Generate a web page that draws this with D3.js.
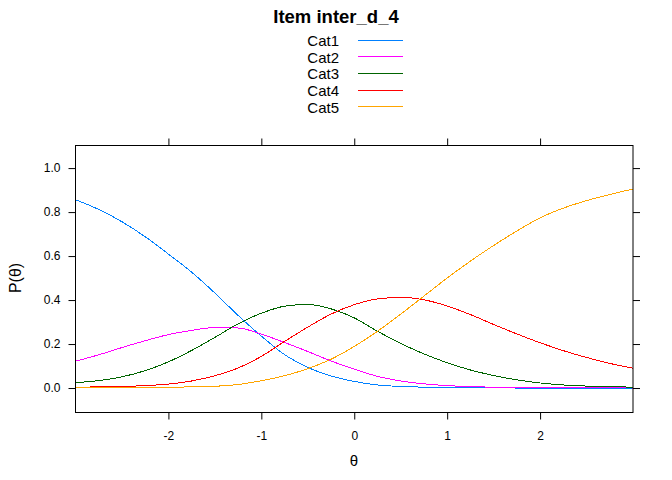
<!DOCTYPE html>
<html>
<head>
<meta charset="utf-8">
<script src="https://cdn.jsdelivr.net/npm/d3@7"></script>
<style>
  html, body { margin: 0; padding: 0; background: #ffffff; }
  svg { display: block; font-family: "Liberation Sans", Arial, sans-serif; }
</style>
</head>
<body>
<svg id="chart" width="672" height="480"></svg>
<script>
// ---- data ----
const theta = [-3, -2.75, -2.5, -2.25, -2, -1.75, -1.5, -1.25, -1, -0.75, -0.5, -0.25, 0,
               0.25, 0.5, 0.75, 1, 1.25, 1.5, 1.75, 2, 2.25, 2.5, 2.75, 3];
const cat1 = [0.856, 0.812, 0.756, 0.688, 0.609, 0.527, 0.432, 0.330, 0.236, 0.152, 0.094, 0.055, 0.030,
              0.014, 0.007, 0.004, 0.002, 0.001, 0.001, 0.000, 0.000, 0.000, 0.000, 0.000, 0.000];
const cat2 = [0.122, 0.151, 0.184, 0.215, 0.243, 0.262, 0.275, 0.273, 0.245, 0.207, 0.166, 0.123, 0.086,
              0.053, 0.032, 0.019, 0.011, 0.006, 0.004, 0.003, 0.002, 0.001, 0.001, 0.001, 0.000];
const cat3 = [0.024, 0.034, 0.051, 0.079, 0.119, 0.171, 0.230, 0.292, 0.340, 0.372, 0.380, 0.360, 0.319,
              0.258, 0.203, 0.155, 0.115, 0.082, 0.057, 0.037, 0.023, 0.014, 0.009, 0.006, 0.004];
const cat4 = [0.004, 0.005, 0.007, 0.011, 0.018, 0.032, 0.056, 0.091, 0.144, 0.212, 0.277, 0.336, 0.379,
              0.405, 0.412, 0.401, 0.373, 0.334, 0.289, 0.246, 0.206, 0.170, 0.139, 0.112, 0.090];
const cat5 = [0.001, 0.001, 0.002, 0.003, 0.004, 0.005, 0.008, 0.016, 0.033, 0.056, 0.088, 0.131, 0.189,
              0.258, 0.336, 0.418, 0.500, 0.577, 0.648, 0.714, 0.774, 0.818, 0.852, 0.880, 0.905];
const seriesNames = ["Cat1", "Cat2", "Cat3", "Cat4", "Cat5"];
const seriesColors = ["#0080ff", "#ff00ff", "#006400", "#ff0000", "#ffa500"];
const xTicks = [-2, -1, 0, 1, 2];
const yTicks = [0.0, 0.2, 0.4, 0.6, 0.8, 1.0];
const titleText = "Item inter_d_4";
const xLabel = "θ";
const yLabel = "P(θ)";

const seriesValues = [cat1, cat2, cat3, cat4, cat5];

// ---- layout ----
const svg = d3.select("#chart");
const L = 75.5, R = 633, T = 145, B = 412;

const x = d3.scaleLinear().domain([-3, 3]).range([L, R]);
const y = d3.scaleLinear().domain([-0.109, 1.105]).range([B, T]);

// title
svg.append("text")
  .attr("x", 336).attr("y", 23)
  .attr("text-anchor", "middle")
  .attr("font-size", 18.5).attr("font-weight", "bold")
  .attr("fill", "#000")
  .text(titleText);

// legend
const leg = svg.append("g");
seriesNames.forEach((n, i) => {
  const by = 46 + i * 16.67;
  leg.append("text")
    .attr("x", 339).attr("y", by)
    .attr("text-anchor", "end")
    .attr("font-size", 15).attr("fill", "#000")
    .text(n);
  leg.append("line")
    .attr("x1", 358).attr("x2", 403)
    .attr("y1", Math.round(by - 6.5) + 0.5).attr("y2", Math.round(by - 6.5) + 0.5)
    .attr("stroke", seriesColors[i]).attr("stroke-width", 1);
});

// curves
const line = d3.line()
  .x((d, i) => x(theta[i]))
  .y(d => y(d))
  .curve(d3.curveMonotoneX);

const plot = svg.append("g");
seriesValues.forEach((vals, i) => {
  plot.append("path")
    .datum(vals)
    .attr("d", line)
    .attr("fill", "none")
    .attr("stroke", seriesColors[i])
    .attr("stroke-width", 1)
    .attr("shape-rendering", "crispEdges");
});

// frame
svg.append("rect")
  .attr("x", L).attr("y", T + 0.5)
  .attr("width", R - L).attr("height", B - T)
  .attr("fill", "none").attr("stroke", "#000").attr("stroke-width", 1);

// axes
const tickLen = 7;
const axB = d3.axisBottom(x).tickValues(xTicks).tickSizeInner(tickLen).tickSizeOuter(0).tickPadding(12)
  .tickFormat(d => d3.format("d")(d).replace("−", "-"));
const axT = d3.axisTop(x).tickValues(xTicks).tickSizeInner(tickLen).tickSizeOuter(0).tickFormat("");
const axL = d3.axisLeft(y).tickValues(yTicks).tickSizeInner(tickLen).tickSizeOuter(0).tickPadding(8)
  .tickFormat(d3.format(".1f"));
const axR = d3.axisRight(y).tickValues(yTicks).tickSizeInner(tickLen).tickSizeOuter(0).tickFormat("");

function styleAxis(g) {
  g.select(".domain").remove();
  g.selectAll(".tick line").attr("stroke", "#000");
  g.selectAll("text").attr("font-size", 12).attr("fill", "#000")
    .attr("font-family", "Liberation Sans, Arial, sans-serif");
}
svg.append("g").attr("transform", `translate(0,${B + 0.5})`).call(axB).call(styleAxis);
svg.append("g").attr("transform", `translate(0,${T + 0.5})`).call(axT).call(styleAxis);
svg.append("g").attr("transform", `translate(${L},0)`).call(axL).call(styleAxis);
svg.append("g").attr("transform", `translate(${R},0)`).call(axR).call(styleAxis);

// axis titles
svg.append("text")
  .attr("x", 354).attr("y", 466)
  .attr("text-anchor", "middle")
  .attr("font-size", 15).attr("fill", "#000")
  .text(xLabel);
svg.append("text")
  .attr("transform", "translate(21,278) rotate(-90)")
  .attr("text-anchor", "middle")
  .attr("font-size", 16).attr("fill", "#000")
  .text(yLabel);
</script>
</body>
</html>
